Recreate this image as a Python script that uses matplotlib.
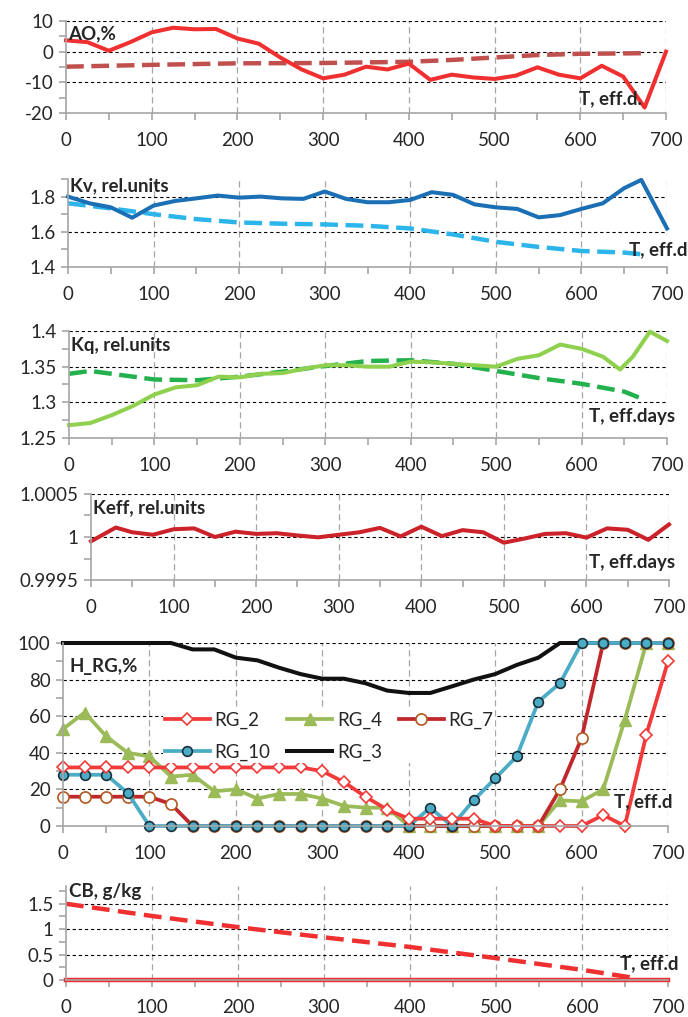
import matplotlib
matplotlib.use("Agg")
import matplotlib.pyplot as plt
from matplotlib.ticker import MultipleLocator, FuncFormatter

plt.rcParams['font.family'] = ['Lato', 'DejaVu Sans']

# ---- data ----
t25 = [0, 25, 50, 75, 100, 125, 150, 175, 200, 225, 250, 275, 300, 325, 350,
       375, 400, 425, 450, 475, 500, 525, 550, 575, 600, 625, 650, 675, 700]

ao_fact = [3.7, 3.1, 0.3, 3.1, 6.3, 7.8, 7.3, 7.4, 4.3, 2.6, -1.9, -5.8, -8.7, -7.5, -4.9,
           -5.8, -3.9, -9.2, -7.5, -8.4, -8.9, -7.8, -5.1, -7.5, -8.7, -4.6, -8.1, -18.2, 0.0]
t_ao_calc = [0, 100, 200, 300, 400, 450, 500, 550, 600, 675]
ao_calc = [-4.9, -4.3, -3.8, -3.7, -3.3, -2.7, -1.9, -1.1, -0.7, -0.5]

t_kv = [0, 25, 50, 75, 100, 125, 150, 175, 200, 225, 250, 275, 300, 325, 350,
        375, 400, 425, 450, 475, 500, 525, 550, 575, 600, 625, 650, 670, 700]
kv_fact = [1.80, 1.762, 1.739, 1.68, 1.749, 1.775, 1.79, 1.806, 1.794, 1.80, 1.79, 1.787, 1.829,
           1.787, 1.768, 1.768, 1.781, 1.825, 1.81, 1.756, 1.739, 1.73, 1.682, 1.695, 1.73,
           1.762, 1.848, 1.895, 1.619]
t_kv_calc = [0, 50, 100, 150, 200, 250, 300, 350, 400, 450, 500, 550, 600, 650, 675]
kv_calc = [1.762, 1.733, 1.70, 1.672, 1.653, 1.646, 1.642, 1.634, 1.619, 1.585, 1.543,
           1.514, 1.491, 1.482, 1.47]

t_kq = [0, 25, 50, 75, 100, 125, 150, 175, 200, 225, 250, 275, 300, 325, 350,
        375, 400, 425, 450, 475, 500, 525, 550, 575, 600, 625, 645, 660, 680, 700]
kq_fact = [1.268, 1.271, 1.282, 1.295, 1.311, 1.321, 1.324, 1.336, 1.335, 1.340, 1.341, 1.347,
           1.352, 1.352, 1.350, 1.350, 1.357, 1.356, 1.354, 1.352, 1.350, 1.361, 1.366, 1.381,
           1.375, 1.364, 1.346, 1.364, 1.399, 1.386]
t_kq_calc = [0, 25, 50, 100, 150, 200, 250, 300, 350, 400, 450, 500, 550, 600, 650, 675]
kq_calc = [1.340, 1.344, 1.340, 1.332, 1.331, 1.336, 1.343, 1.351, 1.358, 1.359, 1.354,
           1.344, 1.334, 1.326, 1.315, 1.303]

t_keff = [0, 30, 50, 75, 100, 125, 150, 175, 200, 225, 250, 275, 300, 325, 350,
          375, 400, 425, 450, 475, 500, 525, 550, 575, 600, 625, 650, 675, 700]
keff = [0.99995, 1.00011, 1.000055, 1.000026, 1.00009, 1.0001, 1.0, 1.000062, 1.000036,
        1.000044, 1.000018, 0.999996, 1.000026, 1.000055, 1.000106, 1.000007, 1.00012,
        1.00001, 1.00008, 1.000055, 0.999934, 0.999982, 1.000036, 1.000044, 0.999993,
        1.0001, 1.000084, 0.999967, 1.000146]

rg_2 = [32, 32, 32, 32, 32, 32, 32, 32, 32, 32, 32, 32, 30, 24, 16,
        9, 4, 4, 4, 4, 0, 0, 0, 0, 0, 6, 0, 50, 90]
rg_4 = [53, 62, 49, 40, 38, 27, 28, 19, 20, 15, 17.5, 17.5, 15, 11, 10,
        10, 0, 0, 0, 0, 0, 0, 0, 14, 13.5, 20, 58, 100, 100]
rg_7 = [16, 16, 16, 16, 16, 12, 0, 0, 0, 0, 0, 0, 0, 0, 0,
        0, 0, 0, 0, 0, 0, 0, 0, 20, 48, 100, 100, 100, 100]
rg_10 = [28, 28, 28, 18, 0, 0, 0, 0, 0, 0, 0, 0, 0, 0, 0,
         0, 0, 10, 0, 14, 26, 38, 68, 78, 100, 100, 100, 100, 100]
rg_3 = [100, 100, 100, 100, 100, 100, 96.5, 96.5, 92, 90.5, 86.5, 83, 80.5, 80.5, 78,
        74, 72.7, 72.7, 76.3, 80, 83, 88, 92, 100, 100, 100, 100, 100, 100]

t_cb = [0, 700]
cb_fact = [0, 0]
t_cb_calc = [0, 100, 200, 300, 400, 500, 600, 665]
cb_calc = [1.5, 1.26, 1.04, 0.84, 0.65, 0.43, 0.2, 0.03]

W, H = 688, 1017
fig = plt.figure(figsize=(W / 100, H / 100), dpi=100)
TXT = '#262626'
GRAY = '#a6a6a6'


def panel(left, right, top, bottom, ylo, yhi, yticks, yminor):
    ax = fig.add_axes([left / W, 1 - bottom / H, (right - left) / W, (bottom - top) / H])
    ax.set_xlim(0, 700)
    ax.set_ylim(ylo, yhi)
    ax.set_xticks(range(0, 701, 100))
    ax.xaxis.set_minor_locator(MultipleLocator(50))
    ax.set_yticks(yticks)
    ax.yaxis.set_minor_locator(MultipleLocator(yminor))
    ax.yaxis.set_major_formatter(FuncFormatter(lambda v, p: '%g' % round(v, 6)))
    for s in ['top', 'right']:
        ax.spines[s].set_visible(False)
    for s in ['left', 'bottom']:
        ax.spines[s].set_color(GRAY)
        ax.spines[s].set_linewidth(1.2)
    ax.tick_params(which='both', direction='out', length=5, color=GRAY, width=1.2,
                   labelsize=13.5, labelcolor=TXT)
    ax.tick_params(axis='x', pad=9)
    ax.tick_params(axis='y', pad=4)
    for x in range(100, 701, 100):
        ax.axvline(x, color=GRAY, ls=(0, (5, 3)), lw=0.9, zorder=0)
    for y in yticks[1:]:
        ax.axhline(y, color='black', ls=(0, (3, 2.5)), lw=0.8, zorder=0.5)
    ax.patch.set_alpha(0)
    return ax


def labels(ax, top_txt, tx, ty, bot_txt, bx, by):
    ax.text(tx, ty, top_txt, transform=ax.transAxes, fontsize=13.5, fontweight='bold',
            color=TXT, va='center', ha='left')
    ax.text(bx, by, bot_txt, transform=ax.transAxes, fontsize=13.5, fontweight='bold',
            color=TXT, va='center', ha='right')


# AO
ax1 = panel(66, 666, 21, 113, -20, 10, [-20, -10, 0, 10], 5)
ax1.plot(t_ao_calc, ao_calc, color='#c0504d', lw=3.2, ls=(0, (4, 1.7)))
ax1.plot(t25, ao_fact, color='#f03030', lw=2.9, clip_on=False)
labels(ax1, 'AO,%', 0.004, 0.86, 'T, eff.d.', 0.96, 0.15)

# Kv
ax2 = panel(68, 667, 179, 267, 1.4, 1.9, [1.4, 1.6, 1.8], 0.1)
ax2.plot(t_kv_calc, kv_calc, color='#2cb5ea', lw=3.2, ls=(0, (4, 1.7)))
ax2.plot(t_kv, kv_fact, color='#1b6fb5', lw=2.9, clip_on=False)
labels(ax2, 'Kv, rel.units', 0.004, 0.92, 'T, eff.d', 1.035, 0.2)

# Kq
ax3 = panel(69, 667, 331, 438, 1.25, 1.4, [1.25, 1.3, 1.35, 1.4], 0.025)
ax3.plot(t_kq_calc, kq_calc, color='#22b14c', lw=3.2, ls=(0, (4, 1.7)))
ax3.plot(t_kq, kq_fact, color='#8fd14f', lw=2.9, clip_on=False)
labels(ax3, 'Kq, rel.units', 0.004, 0.86, 'T, eff.days', 1.013, 0.2)

# Keff
ax4 = panel(91, 669, 494, 580, 0.9995, 1.0005, [0.9995, 1.0, 1.0005], 0.00025)
ax4.plot(t_keff, keff, color='#cc2229', lw=2.9, clip_on=False)
labels(ax4, 'Keff, rel.units', 0.004, 0.84, 'T, eff.days', 1.01, 0.2)

# H_RG
ax5 = panel(63, 668, 643, 826, 0, 100, [0, 20, 40, 60, 80, 100], 10)
l3, = ax5.plot(t25, rg_3, color='#111111', lw=2.9, clip_on=False, label='RG_3')
l4, = ax5.plot(t25, rg_4, color='#9bbb59', lw=2.7, marker='^', ms=8, clip_on=False,
               label='RG_4')
l7, = ax5.plot(t25, rg_7, color='#c0282c', lw=2.7, marker='o', ms=8, mfc='white',
               mec='#b5561f', mew=1.2, clip_on=False, label='RG_7')
l10, = ax5.plot(t25, rg_10, color='#4bacc6', lw=2.7, marker='o', ms=7, mfc='#4bacc6',
                mec='#1d2f3a', mew=1.2, clip_on=False, label='RG_10')
l2, = ax5.plot(t25, rg_2, color='#f23a3a', lw=2.7, marker='D', ms=6, mfc='white',
               mec='#f23a3a', mew=1.2, clip_on=False, label='RG_2')
leg = ax5.legend([l2, l10, l4, l3, l7], ['RG_2', 'RG_10', 'RG_4', 'RG_3', 'RG_7'],
                 ncol=3, loc='center', bbox_to_anchor=(0.44, 0.49), fontsize=13.5,
                 frameon=True, handlelength=2.4, columnspacing=0.9, handletextpad=0.25,
                 labelspacing=0.75, borderpad=0.1)
leg.get_frame().set_edgecolor('none')
leg.get_frame().set_facecolor('white')
leg.get_frame().set_alpha(1)
for txt in leg.get_texts():
    txt.set_color(TXT)
labels(ax5, 'H_RG,%', 0.01, 0.87, 'T, eff.d', 1.007, 0.13)

# CB
ax6 = panel(66, 668, 886, 980, 0, 1.85, [0, 0.5, 1, 1.5], 0.25)
ax6.plot(t_cb_calc, cb_calc, color='#f03030', lw=3.2, ls=(0, (4, 1.9)))
ax6.plot(t_cb, cb_fact, color='#f03030', lw=3.2, clip_on=False)
labels(ax6, 'CB, g/kg', 0.005, 0.94, 'T, eff.d', 1.018, 0.17)

fig.savefig('out.png', dpi=100)
